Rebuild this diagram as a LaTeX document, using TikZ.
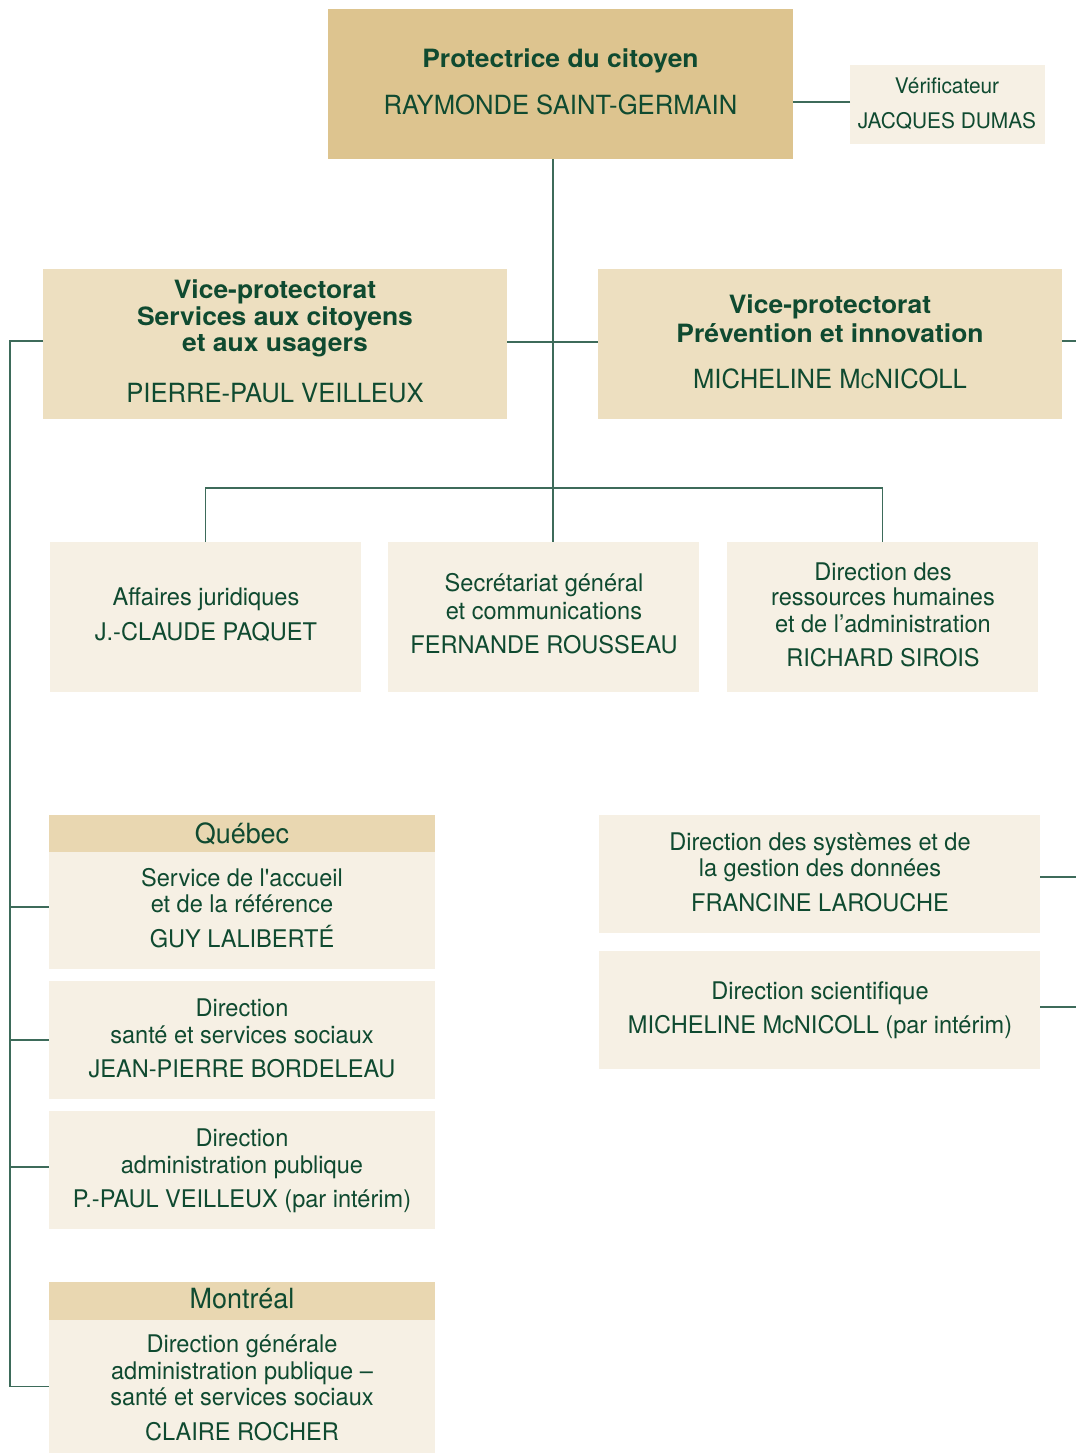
\documentclass[tikz,border=0pt]{standalone}
\usepackage{fontspec}
\setmainfont{TeX Gyre Heros}
\newfontfamily\rgf{texgyreheros-regular.otf}[FakeStretch=0.97,Ligatures=TeXOff]
\newfontfamily\bdf{texgyreheros-bold.otf}[FakeStretch=1.05,Ligatures=TeXOff]
\newcommand\fTitle{\bdf\fontsize{25.2}{25.2}\selectfont}
\newcommand\fName{\rgf\fontsize{26.4}{26.4}\selectfont}
\newcommand\fBody{\rgf\fontsize{24.3}{24.3}\selectfont}
\newcommand\fVerif{\rgf\fontsize{21.5}{21.5}\selectfont}
\newcommand\fHead{\rgf\fontsize{27.8}{27.8}\selectfont}
\definecolor{cTop}{HTML}{DDC48F}
\definecolor{cVP}{HTML}{EDDFC0}
\definecolor{cLight}{HTML}{F6F0E4}
\definecolor{cHead}{HTML}{E9D7B1}
\definecolor{ctext}{HTML}{0F4A30}
\definecolor{cline}{HTML}{3D6B5A}
\begin{document}
\begin{tikzpicture}[x=1pt,y=-1pt,
  every node/.style={inner sep=0pt, outer sep=0pt},
  topbox/.style={rectangle, draw=none, fill=cTop},
  vpbox/.style={rectangle, draw=none, fill=cVP},
  ltbox/.style={rectangle, draw=none, fill=cLight},
  hdbox/.style={rectangle, draw=none, fill=cHead},
  t/.style={anchor=base, text=ctext},
  ln/.style={draw=cline, line width=1.6pt}]
\useasboundingbox (0,0) rectangle (1076,1454);

% ---------- boxes ----------
\node[topbox, minimum width=465pt, minimum height=150pt] (pc) at (560.5,84) {};
\node[ltbox, minimum width=195pt, minimum height=79pt] (vf) at (947.5,104.5) {};
\node[vpbox, minimum width=464pt, minimum height=150pt] (vl) at (275,344) {};
\node[vpbox, minimum width=464pt, minimum height=150pt] (vr) at (830,344) {};
\node[ltbox, minimum width=311pt, minimum height=150pt] (b1) at (205.5,617) {};
\node[ltbox, minimum width=311pt, minimum height=150pt] (b2) at (543.5,617) {};
\node[ltbox, minimum width=311pt, minimum height=150pt] (b3) at (882.5,617) {};
\node[hdbox, minimum width=386pt, minimum height=37pt] (qh) at (242,833.5) {};
\node[ltbox, minimum width=386pt, minimum height=117pt] (qb) at (242,910.5) {};
\node[ltbox, minimum width=386pt, minimum height=118pt] (sa) at (242,1040) {};
\node[ltbox, minimum width=386pt, minimum height=118pt] (ad) at (242,1170) {};
\node[hdbox, minimum width=386pt, minimum height=38pt] (mh) at (242,1301) {};
\node[ltbox, minimum width=386pt, minimum height=133pt] (mb) at (242,1386.5) {};
\node[ltbox, minimum width=441pt, minimum height=118pt] (sy) at (819.5,874) {};
\node[ltbox, minimum width=441pt, minimum height=118pt] (sc) at (819.5,1010) {};

% ---------- texts ----------
\node[t, font=\fTitle] (pc1) at (560.5,67) {Protectrice du citoyen};
\node[t, font=\fName] (pc2) at (560.5,114) {RAYMONDE SAINT-GERMAIN};

\node[t, font=\fVerif] (vf1) at (947,93.3) {Vérificateur};
\node[t, font=\fVerif] (vf2) at (947,128.3) {JACQUES DUMAS};

\node[t, font=\fTitle] (vl1) at (275,298) {Vice-protectorat};
\node[t, font=\fTitle] (vl2) at (275,325) {Services aux citoyens};
\node[t, font=\fTitle] (vl3) at (275,351) {et aux usagers};
\node[t, font=\fName] (vl4) at (275,402.7) {PIERRE-PAUL VEILLEUX};

\node[t, font=\fTitle] (vr1) at (830,313.3) {Vice-protectorat};
\node[t, font=\fTitle] (vr2) at (830,342.7) {Prévention et innovation};
\node[t, font=\fName] (vr3) at (830,388.3) {MICHELINE M{\fontsize{20}{20}\selectfont C}NICOLL};

\node[t, font=\fBody] (b1a) at (206,605.7) {Affaires juridiques};
\node[t, font=\fBody] (b1b) at (206,640) {J.-CLAUDE PAQUET};

\node[t, font=\fBody] (b2a) at (544,591.7) {Secrétariat général};
\node[t, font=\fBody] (b2b) at (544,619) {et communications};
\node[t, font=\fBody] (b2c) at (544,653.3) {FERNANDE ROUSSEAU};

\node[t, font=\fBody] (b3a) at (883,580) {Direction des};
\node[t, font=\fBody] (b3b) at (883,605) {ressources humaines};
\node[t, font=\fBody] (b3c) at (883,632.3) {et de l’administration};
\node[t, font=\fBody] (b3d) at (883,666.7) {RICHARD SIROIS};

\node[t, font=\fHead] (qh1) at (242,843) {Québec};
\node[t, font=\fBody] (qb1) at (242,886) {Service de l'accueil};
\node[t, font=\fBody] (qb2) at (242,912.7) {et de la référence};
\node[t, font=\fBody] (qb3) at (242,947) {GUY LALIBERTÉ};

\node[t, font=\fBody] (sa1) at (242,1016) {Direction};
\node[t, font=\fBody] (sa2) at (242,1043) {santé et services sociaux};
\node[t, font=\fBody] (sa3) at (242,1077) {JEAN-PIERRE BORDELEAU};

\node[t, font=\fBody] (ad1) at (242,1146) {Direction};
\node[t, font=\fBody] (ad2) at (242,1173) {administration publique};
\node[t, font=\fBody] (ad3) at (242,1207) {P.-PAUL VEILLEUX (par intérim)};

\node[t, font=\fHead] (mh1) at (242,1308.3) {Montréal};
\node[t, font=\fBody] (mb1) at (242,1352.7) {Direction générale};
\node[t, font=\fBody] (mb2) at (242,1379.3) {administration publique –};
\node[t, font=\fBody] (mb3) at (242,1405) {santé et services sociaux};
\node[t, font=\fBody] (mb4) at (242,1440) {CLAIRE ROCHER};

\node[t, font=\fBody] (sy1) at (820,850.7) {Direction des systèmes et de};
\node[t, font=\fBody] (sy2) at (820,876.7) {la gestion des données};
\node[t, font=\fBody] (sy3) at (820,911) {FRANCINE LAROUCHE};

\node[t, font=\fBody] (sc1) at (820,999) {Direction scientifique};
\node[t, font=\fBody] (sc2) at (820,1033.3) {MICHELINE McNICOLL (par intérim)};

% ---------- connectors ----------
\coordinate (tx) at (553,488);
\coordinate (lx) at (10,0);
\coordinate (rx) at (1076,0);
\coordinate (vfw) at ([yshift=2.5pt]vf.west);
\coordinate (vlw) at ([yshift=3pt]vl.west);
\coordinate (vle) at ([yshift=2pt]vl.east);
\coordinate (vrw) at ([yshift=2pt]vr.west);
\coordinate (vre) at ([yshift=3pt]vr.east);
\coordinate (qbw) at ([yshift=3.5pt]qb.west);
\coordinate (adw) at ([yshift=3pt]ad.west);
\coordinate (sye) at ([yshift=-3pt]sy.east);
\coordinate (sce) at ([yshift=3pt]sc.east);

\draw[ln] (pc.south -| tx) -- (b2.north -| tx);
\draw[ln] (b1.north) -- (b1.north |- tx) -- (b3.north |- tx) -- (b3.north);
\draw[ln] (vle) -- (vrw);
\draw[ln] (vfw) -- (vfw -| pc.east);
\draw[ln] (vlw) -| (lx |- mb.west) -- (mb.west);
\draw[ln] (lx |- qbw) -- (qbw);
\draw[ln] (lx |- sa.west) -- (sa.west);
\draw[ln] (lx |- adw) -- (adw);
\draw[ln] (vre) -- (vre -| rx);
\draw[ln] (sye) -- (sye -| rx);
\draw[ln] (sce) -- (sce -| rx);
\end{tikzpicture}
\end{document}
